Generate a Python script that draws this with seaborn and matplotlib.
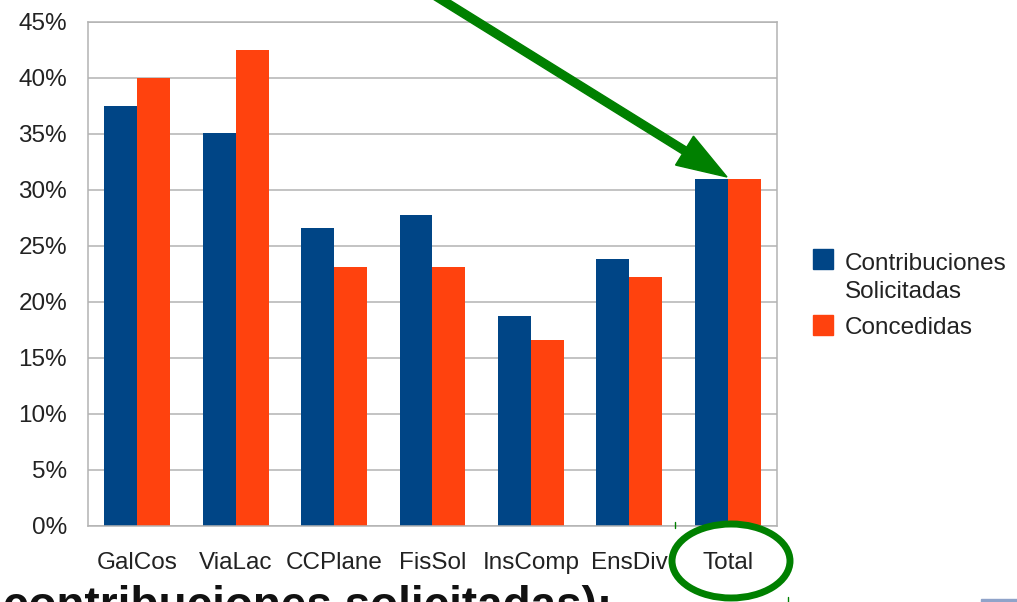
import matplotlib
matplotlib.use("Agg")
import matplotlib.pyplot as plt
import matplotlib.patches as mpatches
import matplotlib.transforms as mtransforms
from matplotlib.ticker import FixedLocator, PercentFormatter
import seaborn as sns
import pandas as pd

# values (percent)
categories = ["GalCos", "ViaLac", "CCPlane", "FisSol", "InsComp", "EnsDiv", "Total"]
solicitadas = [37.5, 35.1, 26.6, 27.8, 18.7, 23.8, 31.0]
concedidas = [40.0, 42.5, 23.1, 23.1, 16.6, 22.2, 31.0]
series_names = ["Contribuciones\nSolicitadas", "Concedidas"]
colors = ["#004586", "#ff420e"]

df = pd.DataFrame({
    "cat": categories * 2,
    "value": solicitadas + concedidas,
    "serie": [series_names[0]] * len(categories) + [series_names[1]] * len(categories),
})

sns.set_style("white")
plt.rcParams["font.family"] = ["Liberation Sans", "DejaVu Sans"]

fig = plt.figure(figsize=(10.17, 6.02), dpi=100)
ax = fig.add_axes([88 / 1017, 1 - 525.7 / 602, (777 - 88) / 1017, (525.7 - 22) / 602])

sns.barplot(data=df, x="cat", y="value", hue="serie", palette=colors,
            width=0.67, gap=0, saturation=1, linewidth=0, ax=ax, legend=False)

grid_c = "#b3b3b3"
ax.set_ylim(0, 45)
ax.set_xlim(-0.5, len(categories) - 0.5)
ax.yaxis.set_major_locator(FixedLocator(range(0, 46, 5)))
ax.yaxis.set_major_formatter(PercentFormatter(decimals=0))
ax.yaxis.grid(True, color=grid_c, linewidth=1.1)
ax.set_axisbelow(True)
ax.set_xlabel("")
ax.set_ylabel("")

ax.xaxis.set_minor_locator(FixedLocator([i - 0.5 for i in range(len(categories) + 1)]))
ax.tick_params(axis="x", which="major", length=0, pad=19, labelsize=17.5, colors="#222222")
ax.tick_params(axis="x", which="minor", length=8, width=1.1, color=grid_c)
ax.tick_params(axis="y", which="major", length=8, width=1.1, color=grid_c,
               pad=7, labelsize=17.5, labelcolor="#222222")
for s in ax.spines.values():
    s.set_color(grid_c)
    s.set_linewidth(1.1)

px = mtransforms.IdentityTransform()
H = 602

# legend at the right: square aligned with the first text line
legend_rows = [(249, 253), (315, 317)]  # (square top, cap top) in image pixels
for (sq_top, cap_top), name, col in zip(legend_rows, series_names, colors):
    fig.add_artist(mpatches.Rectangle((813, H - sq_top - 20), 20, 20, color=col, transform=px))
    fig.text(845, H - cap_top, name, transform=px, fontsize=17.5, color="#222222",
             va="top", ha="left", linespacing=1.35)

green = "#008000"

# arrow pointing at the Total bars
fig.add_artist(mpatches.FancyArrow(426, H + 10, 727 - 426, -(177 + 10), width=8, head_width=34,
                                   head_length=50, length_includes_head=True,
                                   color=green, transform=px))
# ellipse around the Total label
fig.add_artist(mpatches.Ellipse((731, H - 561), 118, 74, fill=False, edgecolor=green,
                                linewidth=5, transform=px))
fig.add_artist(plt.Line2D([675, 675], [H - 522, H - 528], color=green, lw=1, transform=px))
fig.add_artist(plt.Line2D([788, 788], [0, 5], color=green, lw=1, transform=px))
fig.add_artist(mpatches.Rectangle((981, -2), 40, 5, color="#8fa3c9", transform=px))

# cut-off text below the chart
fig.text(3, H - 619, "contribuciones solicitadas):", transform=px, fontsize=33,
         fontweight="bold", color="#111111", va="baseline", ha="left")

fig.savefig("out.png", dpi=100)
